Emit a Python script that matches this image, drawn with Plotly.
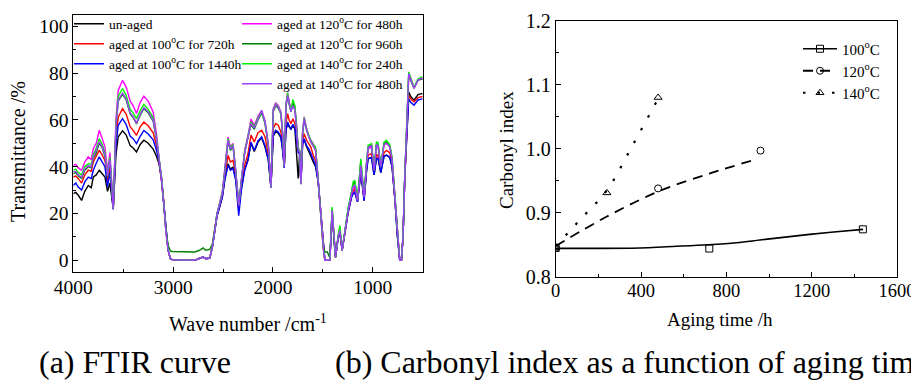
import plotly.graph_objects as go

# ---------------- FTIR data (panel a) ----------------
wavenumber = [
    4000, 3975, 3950, 3917, 3885, 3850, 3820, 3800, 3770, 3740, 3710, 3683, 3657, 3633, 3600,
    3573, 3550, 3507, 3470, 3430, 3400, 3367, 3330, 3293, 3250, 3200, 3167, 3140, 3117, 3093, 3073, 3050, 3027,
    3010, 2900, 2783, 2740, 2700, 2673, 2633, 2607, 2583, 2560, 2533, 2507, 2483,
    2450, 2427, 2400, 2373, 2343, 2317, 2283, 2250, 2220, 2187, 2150, 2113, 2080, 2047,
    2020, 1997, 1973, 1947, 1920, 1903, 1887, 1870, 1853, 1837, 1820, 1800, 1780, 1763,
    1747, 1733, 1720, 1703, 1687, 1663, 1640, 1620, 1597, 1573, 1547, 1520, 1497, 1480,
    1455, 1430, 1407, 1387, 1373, 1347, 1330, 1307, 1280, 1247, 1213, 1197, 1180, 1153,
    1120, 1087, 1063, 1047, 1013, 987, 963, 947, 920, 887, 863, 830, 807,
    780, 753, 730, 713, 697, 680, 663, 640, 620, 587, 547, 513, 500,
]

t_unaged = [
    28.5, 29.0, 27.8, 25.6, 29.5, 32.0, 31.0, 35.6, 36.5, 38.5, 37.0, 35.6, 29.5, 33.0, 22.0,
    45.0, 52.8, 55.3, 53.5, 49.0, 48.0, 46.3, 49.5, 51.3, 50.0, 47.5, 44.5, 41.0, 34.5, 24.0, 12.8, 4.3, 0.7,
    0.3, 0.0, 0.0, 0.8, 1.4, 0.7, 1.0, 5.7, 12.5, 19.0, 23.0, 27.0, 34.5,
    41.3, 39.0, 39.8, 34.8, 22.0, 30.5, 39.0, 43.0, 50.0, 46.5, 50.5, 52.3, 48.5, 43.0,
    31.3, 53.0, 55.0, 54.3, 52.3, 47.0, 40.0, 55.5, 58.5, 57.0, 56.0, 57.5, 56.0, 45.0,
    35.0, 46.0, 32.7, 50.0, 51.5, 48.5, 46.5, 44.5, 42.0, 40.0, 33.5, 18.5, 5.7, 0.0,
    0.0, 0.0, 20.0, 7.1, 1.4, 9.5, 12.0, 4.3, 12.5, 20.5, 27.0, 28.5, 29.0, 25.0,
    37.5, 25.5, 38.0, 43.5, 44.0, 36.5, 43.5, 43.5, 37.5, 44.5, 45.0, 44.0, 40.0,
    27.0, 10.0, 0.0, 0.0, 10.0, 35.0, 50.0, 71.9, 70.0, 68.4, 70.8, 71.2, 71.0,
]

t_100_720 = [
    35.6, 36.0, 34.9, 33.0, 36.5, 38.5, 38.0, 42.0, 44.5, 47.0, 45.0, 42.7, 33.5, 40.0, 22.0,
    52.0, 61.1, 64.8, 62.5, 57.0, 55.5, 53.4, 57.0, 59.1, 57.5, 54.5, 49.0, 42.5, 35.3, 24.2, 12.8, 4.3, 0.7,
    0.3, 0.0, 0.0, 0.8, 1.4, 0.7, 1.0, 5.7, 12.8, 19.5, 23.5, 27.5, 35.5,
    44.9, 42.0, 42.7, 36.5, 21.5, 31.5, 40.6, 45.6, 53.5, 50.6, 54.5, 55.6, 52.8, 45.0,
    31.3, 56.3, 58.4, 57.7, 54.8, 49.0, 40.3, 58.4, 62.7, 59.8, 58.4, 60.5, 58.4, 52.5,
    47.0, 46.5, 32.7, 50.5, 54.1, 51.3, 49.5, 48.4, 44.9, 42.7, 34.0, 18.5, 5.7, 0.0,
    0.0, 0.0, 20.5, 7.1, 1.4, 9.8, 12.5, 4.3, 12.8, 21.0, 27.5, 29.5, 30.6, 25.6,
    38.5, 27.0, 39.5, 44.9, 45.6, 38.5, 45.3, 44.5, 39.9, 46.0, 47.0, 46.0, 41.0,
    27.0, 10.0, 0.0, 0.0, 10.0, 35.0, 49.0, 70.5, 69.0, 67.7, 69.5, 69.8, 70.0,
]

t_100_1440 = [
    32.0, 33.0, 31.3, 30.0, 33.5, 35.6, 35.0, 38.5, 41.5, 44.2, 42.0, 39.9, 31.5, 37.5, 21.7,
    49.0, 57.7, 60.5, 58.0, 53.0, 52.0, 49.9, 53.0, 55.5, 54.0, 51.5, 47.0, 42.0, 35.0, 24.0, 12.8, 4.3, 0.7,
    0.3, 0.0, 0.0, 0.8, 1.4, 0.7, 1.0, 5.7, 12.5, 19.0, 23.0, 27.0, 34.2,
    40.7, 38.5, 39.2, 34.2, 19.1, 29.9, 38.5, 42.7, 50.5, 46.9, 51.0, 52.8, 49.0, 43.0,
    31.0, 53.4, 55.6, 54.8, 52.8, 47.0, 39.5, 55.6, 59.1, 57.3, 56.3, 58.1, 56.3, 51.3,
    46.0, 45.5, 32.5, 49.5, 52.0, 49.0, 47.5, 45.6, 42.7, 40.6, 33.5, 18.5, 5.7, 0.0,
    0.0, 0.0, 20.0, 7.1, 1.4, 9.5, 12.0, 4.3, 12.5, 20.5, 27.0, 28.5, 29.2, 25.0,
    37.7, 25.5, 38.0, 43.4, 43.9, 36.5, 43.5, 43.5, 37.5, 44.5, 44.9, 44.0, 40.0,
    27.0, 10.0, 0.0, 0.0, 10.0, 35.0, 48.0, 69.0, 67.5, 66.3, 68.5, 69.0, 69.0,
]

t_120_480 = [
    40.6, 41.0, 39.5, 38.5, 42.0, 44.2, 43.0, 47.7, 50.0, 55.6, 52.0, 48.4, 38.0, 46.0, 22.5,
    60.0, 72.6, 76.9, 74.0, 68.0, 66.0, 62.7, 67.5, 70.1, 68.0, 63.4, 54.0, 44.0, 35.6, 24.2, 12.8, 4.3, 0.7,
    0.3, 0.0, 0.0, 0.8, 1.4, 0.7, 1.0, 5.7, 12.8, 20.0, 24.8, 29.5, 39.0,
    52.7, 48.4, 49.9, 38.5, 23.4, 34.2, 47.0, 53.4, 60.3, 57.7, 61.5, 64.0, 59.8, 49.9,
    31.3, 64.8, 67.2, 66.2, 63.4, 54.1, 40.5, 66.9, 71.5, 67.7, 64.4, 67.7, 65.5, 57.7,
    48.0, 47.0, 32.7, 55.0, 61.3, 56.3, 53.0, 51.3, 49.9, 47.7, 34.2, 18.5, 5.7, 0.0,
    0.0, 0.0, 21.0, 7.1, 1.4, 10.0, 12.8, 4.3, 12.8, 21.4, 28.0, 31.0, 31.5, 25.6,
    40.0, 27.0, 40.5, 47.5, 48.5, 38.5, 49.0, 48.5, 39.9, 49.5, 50.0, 48.5, 43.0,
    27.0, 10.0, 0.0, 0.0, 10.0, 35.0, 52.0, 79.0, 77.0, 73.5, 77.0, 77.5, 77.5,
]

t_120_960 = [
    37.0, 37.5, 36.0, 35.0, 38.5, 40.0, 39.5, 43.5, 46.0, 50.0, 48.0, 44.5, 35.5, 42.5, 22.0,
    56.5, 68.0, 71.0, 68.5, 62.5, 61.0, 58.3, 62.0, 64.8, 63.0, 59.5, 51.5, 43.0, 35.6, 24.5, 13.5, 6.5, 4.0,
    3.8, 3.6, 3.6, 4.2, 5.3, 4.3, 4.7, 7.0, 13.0, 20.0, 24.2, 28.5, 37.5,
    51.0, 47.0, 48.5, 38.0, 23.5, 33.5, 46.0, 52.5, 58.0, 56.0, 60.0, 63.0, 58.5, 49.0,
    31.3, 63.5, 66.0, 65.0, 62.5, 53.5, 40.0, 65.5, 70.0, 66.5, 63.5, 67.0, 64.5, 56.0,
    47.5, 46.5, 32.7, 54.0, 60.0, 55.5, 52.5, 50.5, 49.0, 47.0, 34.2, 18.8, 6.5, 3.6,
    3.6, 1.0, 22.0, 7.5, 1.4, 10.5, 14.0, 4.3, 13.2, 22.0, 29.0, 32.5, 33.5, 26.0,
    42.5, 27.5, 41.5, 48.5, 49.5, 38.5, 50.0, 49.5, 39.9, 50.0, 50.5, 49.0, 43.5,
    27.0, 10.0, 0.0, 0.0, 10.0, 35.0, 52.0, 79.0, 77.0, 73.5, 77.0, 77.5, 77.5,
]

t_140_240 = [
    38.5, 39.0, 37.5, 36.5, 40.0, 41.3, 41.0, 45.0, 48.0, 52.0, 49.5, 46.0, 36.5, 44.0, 22.2,
    58.0, 70.0, 73.4, 70.5, 64.5, 63.0, 60.5, 64.0, 66.6, 64.5, 61.0, 52.5, 43.5, 35.6, 24.2, 12.8, 4.5, 0.7,
    0.3, 0.0, 0.0, 0.8, 1.4, 0.7, 1.0, 5.7, 12.8, 20.0, 24.5, 29.0, 38.0,
    52.0, 48.0, 49.5, 38.5, 23.8, 34.0, 46.5, 53.0, 59.1, 57.0, 61.0, 63.5, 59.0, 49.5,
    31.3, 64.3, 66.8, 65.8, 63.0, 54.0, 40.3, 66.5, 71.5, 67.0, 64.0, 68.7, 66.0, 57.0,
    48.0, 47.0, 32.7, 55.0, 61.0, 56.0, 53.0, 51.0, 49.5, 48.4, 34.5, 18.8, 6.0, 0.0,
    0.0, 0.0, 22.8, 7.5, 1.4, 10.5, 15.0, 4.3, 13.5, 22.5, 29.5, 33.5, 34.2, 26.0,
    43.4, 27.5, 42.0, 49.1, 49.9, 39.0, 50.5, 50.2, 40.2, 50.5, 51.3, 49.5, 44.0,
    27.5, 10.0, 0.0, 0.0, 10.0, 36.0, 52.8, 80.5, 78.0, 74.0, 77.5, 78.3, 78.0,
]

t_140_480 = [
    37.8, 38.0, 36.5, 35.5, 39.0, 40.5, 40.0, 44.0, 47.0, 50.6, 48.5, 45.0, 36.0, 43.0, 22.0,
    57.0, 68.5, 71.5, 69.0, 63.0, 61.5, 58.6, 62.5, 65.2, 63.5, 60.0, 52.0, 43.0, 35.6, 24.2, 12.8, 4.3, 0.7,
    0.3, 0.0, 0.0, 0.8, 1.4, 0.7, 1.0, 5.7, 12.8, 20.0, 24.2, 28.5, 37.5,
    51.3, 47.5, 49.0, 38.0, 23.4, 33.8, 46.0, 52.5, 58.5, 56.5, 60.5, 64.1, 59.0, 49.5,
    31.3, 64.0, 66.5, 65.5, 62.8, 53.8, 40.0, 66.0, 70.5, 66.5, 63.5, 66.0, 64.0, 55.5,
    47.0, 46.5, 32.7, 54.5, 60.5, 55.5, 52.5, 50.5, 49.0, 47.0, 34.2, 18.5, 5.7, 0.0,
    0.0, 0.0, 21.4, 7.1, 1.4, 10.0, 12.8, 4.3, 12.8, 21.4, 28.5, 31.5, 32.0, 25.6,
    40.6, 27.0, 41.0, 48.1, 49.0, 38.5, 49.5, 49.0, 39.9, 49.5, 50.0, 48.5, 43.0,
    27.0, 10.0, 0.0, 0.0, 10.0, 35.0, 52.5, 79.8, 77.5, 73.5, 77.0, 77.8, 77.5,
]

ftir_names = [
    "un-aged",
    "aged at 100<sup>o</sup>C for 720h",
    "aged at 100<sup>o</sup>C for 1440h",
    "aged at 120<sup>o</sup>C for 480h",
    "aged at 120<sup>o</sup>C for 960h",
    "aged at 140<sup>o</sup>C for 240h",
    "aged at 140<sup>o</sup>C for 480h",
]
ftir_values = [t_unaged, t_100_720, t_100_1440, t_120_480, t_120_960, t_140_240, t_140_480]
ftir_colors = ["#000000", "#ff0000", "#0000ff", "#ff00ff", "#008000", "#00f000", "#a040ff"]

# ---------------- Carbonyl index data (panel b) ----------------
t100 = [0, 720, 1440]
ci100 = [0.845, 0.844, 0.874]
t120 = [0, 480, 960]
ci120 = [0.845, 0.938, 0.997]
t140 = [0, 240, 480]
ci140 = [0.845, 0.931, 1.080]

fit100_t = [0, 395, 520, 715, 848, 957, 1066, 1191, 1316, 1441]
fit100_ci = [0.8443, 0.8448, 0.8469, 0.8500, 0.8531, 0.8573, 0.8615, 0.8661, 0.8703, 0.874]
fit120_t = [0, 240, 480, 720, 926]
fit120_ci = [0.848, 0.894, 0.933, 0.961, 0.982]
fit140_t = [0, 120, 240, 360, 480]
fit140_ci = [0.848, 0.891, 0.935, 1.005, 1.078]

ci_names = ["100<sup>o</sup>C", "120<sup>o</sup>C", "140<sup>o</sup>C"]

# The page body keeps its default 8px margin, so the figure is sized to
# fill the 919x380 window and all positions are given in window pixels.
OFF = 8
W, H = 919 - OFF, 380 - OFF
SERIF = "Liberation Serif"


def px_x(p):
    return (p - OFF) / W


def px_y(p):
    return 1 - (p - OFF) / H


fig = go.Figure()

# panel a traces, each with its own legend (two-column layout)
leg_pos_a = [(69, 24), (69, 44), (69, 64), (237, 24), (237, 44), (237, 64), (237, 84)]
legends = {}
for i, (name, vals, col) in enumerate(zip(ftir_names, ftir_values, ftir_colors)):
    lname = "legend" if i == 0 else f"legend{i + 1}"
    fig.add_trace(go.Scatter(
        x=wavenumber, y=vals, mode="lines", name=name,
        line=dict(color=col, width=1.4), legend=lname,
        xaxis="x", yaxis="y",
    ))
    lx, ly = leg_pos_a[i]
    legends[lname] = dict(
        x=px_x(lx), y=px_y(ly), xanchor="left", yanchor="middle",
        bgcolor="rgba(0,0,0,0)", borderwidth=0, itemwidth=30,
        font=dict(family=SERIF, size=13.5, color="black"),
    )

# panel b traces
dash_styles = ["solid", "10px,7px", "2.5px,12px"]
line_widths = [1.6, 1.8, 2.2]
symbols = ["square-open", "circle-open", "triangle-up-open"]
fits = [(fit100_t, fit100_ci), (fit120_t, fit120_ci), (fit140_t, fit140_ci)]
pts = [(t100, ci100), (t120, ci120), (t140, ci140)]
leg_pos_b = [(798, 49), (798, 71), (798, 93)]
for j in range(3):
    ft, fc = fits[j]
    fig.add_trace(go.Scatter(
        x=ft, y=fc, mode="lines",
        line=dict(color="black", width=line_widths[j], dash=dash_styles[j], shape="spline"),
        showlegend=False, xaxis="x2", yaxis="y2", hoverinfo="skip",
    ))
    px_, py_ = pts[j]
    xs, ys = [], []
    for a, b in zip(px_, py_):
        xs += [a, None]
        ys += [b, None]
    lname = f"legend{8 + j}"
    fig.add_trace(go.Scatter(
        x=xs, y=ys, mode="lines+markers", name=ci_names[j], connectgaps=False,
        line=dict(color="black", width=line_widths[j], dash=dash_styles[j]),
        marker=dict(symbol=symbols[j], size=7, color="black", line=dict(width=1, color="black")),
        legend=lname, xaxis="x2", yaxis="y2",
    ))
    lx, ly = leg_pos_b[j]
    legends[lname] = dict(
        x=px_x(lx), y=px_y(ly), xanchor="left", yanchor="middle",
        bgcolor="rgba(0,0,0,0)", borderwidth=0, itemwidth=34,
        font=dict(family=SERIF, size=15, color="black"),
    )

axis_common = dict(
    showline=True, linecolor="black", linewidth=1, mirror=True,
    ticks="inside", ticklen=5, tickwidth=1, tickcolor="black",
    showgrid=False, zeroline=False, automargin=False,
)

fig.update_layout(
    template="none",
    width=W, height=H,
    margin=dict(l=0, r=0, t=0, b=0, autoexpand=False),
    paper_bgcolor="white", plot_bgcolor="white",
    showlegend=True,
    font=dict(family=SERIF, color="black"),
    xaxis=dict(
        domain=[px_x(73.3), px_x(422.7)], range=[4000, 500], anchor="y",
        tick0=0, dtick=1000, tickfont=dict(family=SERIF, size=19.5),
        minor=dict(dtick=500, ticks="inside", ticklen=3, tickcolor="black", showgrid=False),
        ticklabelstandoff=-3, **axis_common,
    ),
    yaxis=dict(
        domain=[px_y(272.3), px_y(15)], range=[-5.1, 104.8], anchor="x",
        tick0=0, dtick=20, tickfont=dict(family=SERIF, size=19.5),
        minor=dict(dtick=10, ticks="inside", ticklen=3, tickcolor="black", showgrid=False),
        ticklabelstandoff=0, **axis_common,
    ),
    xaxis2=dict(
        domain=[px_x(555.7), px_x(897)], range=[0, 1600], anchor="y2",
        tick0=0, dtick=400, tickfont=dict(family=SERIF, size=18.5),
        minor=dict(dtick=200, ticks="inside", ticklen=3, tickcolor="black", showgrid=False),
        ticklabelstandoff=-3, **axis_common,
    ),
    yaxis2=dict(
        domain=[px_y(276.7), px_y(20.7)], range=[0.8, 1.2], anchor="x2",
        tick0=0.8, dtick=0.1, tickformat=".1f", tickfont=dict(family=SERIF, size=20),
        minor=dict(dtick=0.05, ticks="inside", ticklen=3, tickcolor="black", showgrid=False),
        ticklabelstandoff=0, **axis_common,
    ),
    **legends,
)

annotations = [
    dict(text="Transmittance /%", x=px_x(18), y=px_y(152), textangle=-90, font=dict(size=20)),
    dict(text="Wave number /cm<sup>-1</sup>", x=px_x(248), y=px_y(323), font=dict(size=20)),
    dict(text="Carbonyl index", x=px_x(506), y=px_y(150), textangle=-90, font=dict(size=19)),
    dict(text="Aging time /h", x=px_x(720), y=px_y(319), font=dict(size=19)),
    dict(text="(a) FTIR curve", x=px_x(37), y=px_y(362), xanchor="left", font=dict(size=32)),
    dict(text="(b) Carbonyl index as a function of aging time", x=px_x(333), y=px_y(362),
         xanchor="left", font=dict(size=32)),
]
for a in annotations:
    a.setdefault("xanchor", "center")
    a.update(xref="paper", yref="paper", yanchor="middle", showarrow=False)
    a["font"] = dict(family=SERIF, color="black", **a["font"])
fig.update_layout(annotations=annotations)

fig.write_html("out.html")
